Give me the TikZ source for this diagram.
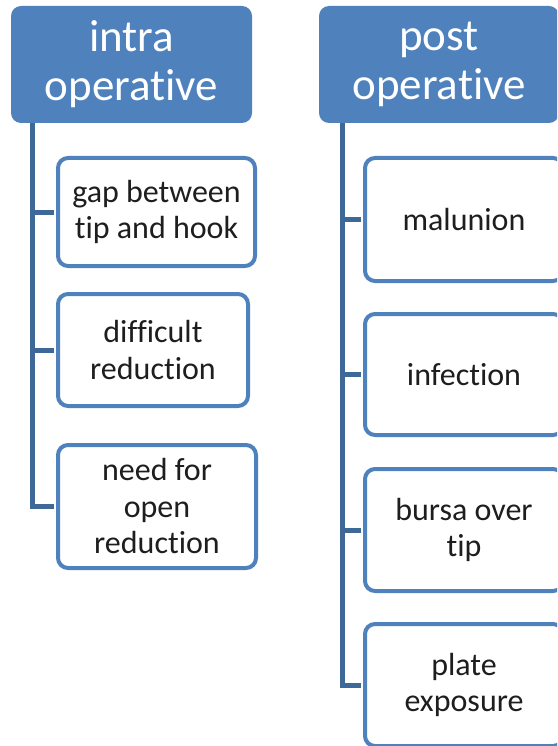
\documentclass[tikz,border=0pt]{standalone}
\usepackage{fontspec}
\setmainfont{Carlito}[Ligatures=NoCommon]
\definecolor{hdrblue}{RGB}{79,129,189}
\definecolor{trunkblue}{RGB}{62,104,152}
\definecolor{txtgray}{RGB}{30,30,30}
\begin{document}
\begin{tikzpicture}[x=1pt,y=1pt,
  header/.style={fill=hdrblue,draw=none,rounded corners=10pt,text=white,align=center,inner sep=0pt,
    font=\fontsize{45}{49}\selectfont},
  child/.style={draw=hdrblue,line width=4pt,fill=white,rounded corners=10pt,text=txtgray,align=center,inner sep=0pt,
    font=\fontsize{32}{36.5}\selectfont},
  trunk/.style={draw=trunkblue,line width=5pt}]
\useasboundingbox (0,0) rectangle (557,-746);
\clip (0,0) rectangle (557,-746);
% headers
\node[header,minimum width=241pt,minimum height=117pt] (hl) at (131.5,-64.5) {intra\\operative};
\node[header,minimum width=240pt,minimum height=117pt] (hr) at (439,-64.5) {post\\operative};
\coordinate (tl) at ([xshift=21.5pt]hl.south west);
\coordinate (tr) at ([xshift=24pt]hr.south west);
% left children
\node[child,minimum width=197pt,minimum height=108pt] (c1) at (156.5,-212) {gap between\\tip and hook};
\node[child,minimum width=190pt,minimum height=112pt] (c2) at (153,-350) {difficult\\reduction};
\node[child,minimum width=198pt,minimum height=123pt] (c3) at (157,-506.5) {need for\\open\\reduction};
% right children
\node[child,minimum width=198pt,minimum height=123pt] (d1) at (464,-219.5) {malunion};
\node[child,minimum width=198pt,minimum height=121pt] (d2) at (464,-374.5) {infection};
\node[child,minimum width=198pt,minimum height=122pt] (d3) at (464,-530) {bursa over\\tip};
\node[child,minimum width=198pt,minimum height=122pt] (d4) at (464,-685) {plate\\exposure};
% connectors
\draw[trunk] (tl) |- ([xshift=-2pt]c1.west);
\draw[trunk] (tl) |- ([xshift=-2pt]c2.west);
\draw[trunk] (tl) |- ([xshift=-2pt]c3.west);
\draw[trunk] (tr) |- ([xshift=-2pt]d1.west);
\draw[trunk] (tr) |- ([xshift=-2pt]d2.west);
\draw[trunk] (tr) |- ([xshift=-2pt]d3.west);
\draw[trunk] (tr) |- ([xshift=-2pt]d4.west);
\end{tikzpicture}
\end{document}
